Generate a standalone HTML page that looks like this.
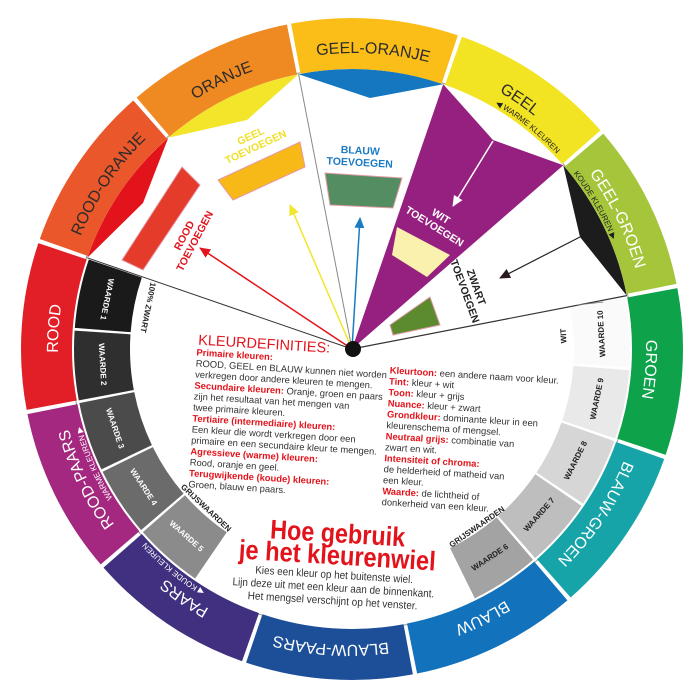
<!DOCTYPE html>
<html><head><meta charset="utf-8"><style>
html,body{margin:0;padding:0;background:#fff;width:700px;height:700px;overflow:hidden;}
svg{display:block;font-family:"Liberation Sans",sans-serif;overflow:hidden;}
.rl{font-size:16px;}
.sm{font-size:8px;}
.wd{font-size:8px;font-weight:bold;}
.tv{font-size:10.5px;font-weight:bold;}
.d{font-size:9.4px;fill:#333;}
.r{fill:#e3131b;font-weight:bold;}
</style></head><body>
<svg width="700" height="700" viewBox="0 0 700 700" xmlns="http://www.w3.org/2000/svg">
<defs>
<path id="ringpath" d="M255.3,629.8 A297,297 0 0 1 448.7,68.2 A297,297 0 0 1 255.3,629.8"/>
<path id="smpath" d="M259.5,617.5 A284,284 0 0 1 444.5,80.5 A284,284 0 0 1 259.5,617.5"/>
<marker id="arR" markerWidth="12" markerHeight="10" refX="10" refY="5" orient="auto" markerUnits="userSpaceOnUse"><path d="M0,0 L11,5 L0,10 Z" fill="#e3131b"/></marker>
<marker id="arY" markerWidth="12" markerHeight="10" refX="10" refY="5" orient="auto" markerUnits="userSpaceOnUse"><path d="M0,0 L11,5 L0,10 Z" fill="#f2e52a"/></marker>
<marker id="arB" markerWidth="12" markerHeight="10" refX="10" refY="5" orient="auto" markerUnits="userSpaceOnUse"><path d="M0,0 L11,5 L0,10 Z" fill="#1a7bc4"/></marker>
<marker id="arW" markerWidth="12" markerHeight="10" refX="10" refY="5" orient="auto" markerUnits="userSpaceOnUse"><path d="M0,0 L11,5 L0,10 Z" fill="#fff"/></marker>
<marker id="arK" markerWidth="12" markerHeight="10" refX="10" refY="5" orient="auto" markerUnits="userSpaceOnUse"><path d="M0,0 L11,5 L0,10 Z" fill="#2a1a20"/></marker>
</defs>

<circle cx="352" cy="349" r="281" fill="#fff" stroke="#999" stroke-width="1"/>

<path d="M87.3,257.8 A280,280 0 0 1 168.3,137.7 L143,203 Z" fill="#e3131b"/>
<path d="M168.3,137.7 A280,280 0 0 1 298.6,74.2 L247,120 Z" fill="#f2e52a"/>
<path d="M298.6,74.2 A280,280 0 0 1 443.2,84.3 L370,98 Z" fill="#1477c0"/>
<path d="M352,349 L443.2,84.3 L493,140 L563.3,165.3 Z" fill="#95207f"/>
<path d="M563.3,165.3 A280,280 0 0 1 626.8,295.6 L580,237 Z" fill="#1c1c1c"/>

<line x1="352" y1="349" x2="87.3" y2="257.8" stroke="#333" stroke-width="1"/>
<line x1="352" y1="349" x2="298.6" y2="74.2" stroke="#888" stroke-width="1"/>
<line x1="352" y1="349" x2="626.8" y2="295.6" stroke="#333" stroke-width="1.2"/>

<g fill="none" stroke-width="51" stroke-dasharray="156 3000">
<circle cx="352" cy="349" r="305.5" stroke="#fbbd18" transform="rotate(-100.6 352 349)"/>
<circle cx="352" cy="349" r="305.5" stroke="#f3e423" transform="rotate(-70.6 352 349)"/>
<circle cx="352" cy="349" r="305.5" stroke="#a5c63b" transform="rotate(-40.6 352 349)"/>
<circle cx="352" cy="349" r="305.5" stroke="#0ea24b" transform="rotate(-10.6 352 349)"/>
<circle cx="352" cy="349" r="305.5" stroke="#17a4a8" transform="rotate(19.4 352 349)"/>
<circle cx="352" cy="349" r="305.5" stroke="#1272bb" transform="rotate(49.4 352 349)"/>
<circle cx="352" cy="349" r="305.5" stroke="#1d4f99" transform="rotate(79.4 352 349)"/>
<circle cx="352" cy="349" r="305.5" stroke="#40307f" transform="rotate(109.4 352 349)"/>
<circle cx="352" cy="349" r="305.5" stroke="#a4287f" transform="rotate(139.4 352 349)"/>
<circle cx="352" cy="349" r="305.5" stroke="#e21e26" transform="rotate(169.4 352 349)"/>
<circle cx="352" cy="349" r="305.5" stroke="#e9572a" transform="rotate(199.4 352 349)"/>
<circle cx="352" cy="349" r="305.5" stroke="#ef8a23" transform="rotate(229.4 352 349)"/>
</g>

<g class="rl" text-anchor="middle">
<text fill="#2b2b2b"><textPath href="#ringpath" startOffset="45.83%">GEEL-ORANJE</textPath></text>
<text fill="#2b2b2b"><textPath href="#ringpath" startOffset="54.17%">GEEL</textPath></text>
<text fill="#fff"><textPath href="#ringpath" startOffset="62.5%">GEEL-GROEN</textPath></text>
<text fill="#fff"><textPath href="#ringpath" startOffset="70.83%">GROEN</textPath></text>
<text fill="#fff"><textPath href="#ringpath" startOffset="79.17%">BLAUW-GROEN</textPath></text>
<text fill="#fff"><textPath href="#ringpath" startOffset="87.5%">BLAUW</textPath></text>
<text fill="#fff"><textPath href="#ringpath" startOffset="95.83%">BLAUW-PAARS</textPath></text>
<text fill="#fff"><textPath href="#ringpath" startOffset="4.17%">PAARS</textPath></text>
<text fill="#fff"><textPath href="#ringpath" startOffset="12.5%">ROOD-PAARS</textPath></text>
<text fill="#fff"><textPath href="#ringpath" startOffset="20.83%">ROOD</textPath></text>
<text fill="#2b2b2b"><textPath href="#ringpath" startOffset="29.17%">ROOD-ORANJE</textPath></text>
<text fill="#2b2b2b"><textPath href="#ringpath" startOffset="37.5%">ORANJE</textPath></text>
</g>
<g class="sm" text-anchor="middle">
<text fill="#222"><textPath href="#smpath" startOffset="55.4%">◀ WARME KLEUREN</textPath></text>
<text fill="#222"><textPath href="#smpath" startOffset="61.25%">KOUDE KLEUREN ▶</textPath></text>
<text fill="#fff"><textPath href="#smpath" startOffset="13.1%">WARME KLEUREN ▶</textPath></text>
<text fill="#fff"><textPath href="#smpath" startOffset="5.6%">◀ KOUDE KLEUREN</textPath></text>
</g>

<g fill="none" stroke-width="56" stroke-dasharray="63 3000">
<circle cx="352" cy="349" r="250" stroke="#1a1a1a" transform="rotate(184.35 352 349)"/>
<circle cx="352" cy="349" r="250" stroke="#2f2f2f" transform="rotate(169.35 352 349)"/>
<circle cx="352" cy="349" r="250" stroke="#4b4b4b" transform="rotate(154.35 352 349)"/>
<circle cx="352" cy="349" r="250" stroke="#6b6b6b" transform="rotate(139.35 352 349)"/>
<circle cx="352" cy="349" r="250" stroke="#8b8b8b" transform="rotate(124.35 352 349)"/>
<circle cx="352" cy="349" r="250" stroke="#a3a3a3" transform="rotate(49.35 352 349)"/>
<circle cx="352" cy="349" r="250" stroke="#bebebe" transform="rotate(34.35 352 349)"/>
<circle cx="352" cy="349" r="250" stroke="#d6d6d6" transform="rotate(19.35 352 349)"/>
<circle cx="352" cy="349" r="250" stroke="#e9e9e9" transform="rotate(4.35 352 349)"/>
<circle cx="352" cy="349" r="250" stroke="#fafafa" transform="rotate(-10.65 352 349)"/>
</g>
<line x1="577.4" y1="305" x2="603.5" y2="302" stroke="#777" stroke-width="0.8"/>
<g class="wd" text-anchor="middle" dominant-baseline="central">
<text fill="#fff" transform="translate(107,299.2) rotate(101.5)">WAARDE 1</text>
<text fill="#fff" transform="translate(102.5,364.3) rotate(86.5)">WAARDE 2</text>
<text fill="#fff" transform="translate(114.9,428.3) rotate(71.5)">WAARDE 3</text>
<text fill="#fff" transform="translate(143.5,487) rotate(56.5)">WAARDE 4</text>
<text fill="#fff" transform="translate(186.4,536.2) rotate(41.5)">WAARDE 5</text>
<text fill="#222" transform="translate(601.5,333.7) rotate(-93.5)">WAARDE 10</text>
<text fill="#222" transform="translate(597,398.8) rotate(-78.5)">WAARDE 9</text>
<text fill="#222" transform="translate(575.7,460.5) rotate(-63.5)">WAARDE 8</text>
<text fill="#222" transform="translate(539.2,514.7) rotate(-48.5)">WAARDE 7</text>
<text fill="#222" transform="translate(490,557.5) rotate(-33.5)">WAARDE 6</text>
<text fill="#222" transform="translate(148,307.5) rotate(101.5)">100% ZWART</text>
<text fill="#222" transform="translate(563.6,336) rotate(-93.5)">WIT</text>
<text fill="#222" transform="translate(206,508) rotate(43)">GRIJSWAARDEN</text>
<text fill="#222" transform="translate(477,527) rotate(-35)">GRIJSWAARDEN</text>
</g>

<polygon points="122,260 143,270 200,185 182,167" fill="#e43b2b" stroke="#e59aa8" stroke-width="1"/>
<polygon points="218,180 233,200 305,167 300,142" fill="#f6b917" stroke="#e59aa8" stroke-width="1"/>
<polygon points="325,173 402,178 393,208 330,205" fill="#558d62" stroke="#e59aa8" stroke-width="1"/>
<polygon points="397,227 450,255 427,277 392,255" fill="#fbf1ae"/>
<polygon points="390,325 430,297 440,325 393,335" fill="#5c8a2e" stroke="#e59aa8" stroke-width="1"/>

<line x1="352" y1="349" x2="200" y2="248" stroke="#e3131b" stroke-width="1.5" marker-end="url(#arR)"/>
<line x1="352" y1="349" x2="290" y2="205" stroke="#f2e52a" stroke-width="1.5" marker-end="url(#arY)"/>
<line x1="352" y1="349" x2="360" y2="218" stroke="#1a7bc4" stroke-width="1.5" marker-end="url(#arB)"/>
<line x1="493" y1="141" x2="453" y2="206" stroke="#fff" stroke-width="1.5" marker-end="url(#arW)"/>
<line x1="580" y1="237" x2="500" y2="278" stroke="#222" stroke-width="1.2" marker-end="url(#arK)"/>

<g class="tv" text-anchor="middle">
<g transform="translate(189,238) rotate(-62)"><text y="-2" fill="#e3131b">ROOD</text><text y="10" fill="#e3131b">TOEVOEGEN</text></g>
<g transform="translate(253,141) rotate(-25)"><text y="-2" fill="#efe02a">GEEL</text><text y="10" fill="#efe02a">TOEVOEGEN</text></g>
<g transform="translate(360,156) rotate(3)"><text y="-2" fill="#1a7bc4">BLAUW</text><text y="10" fill="#1a7bc4">TOEVOEGEN</text></g>
<g transform="translate(438,221) rotate(32)"><text y="-2" fill="#fff">WIT</text><text y="10" fill="#fff">TOEVOEGEN</text></g>
<g transform="translate(471,289) rotate(70)"><text y="-2" fill="#222">ZWART</text><text y="10" fill="#222">TOEVOEGEN</text></g>
</g>

<circle cx="353" cy="349" r="8" fill="#111"/>

<g transform="rotate(3.5 352 349)">
<text x="198" y="354" font-size="14.5" fill="#e3131b">KLEURDEFINITIES:</text>
<g class="d">
<text x="197" y="365"><tspan class="r">Primaire kleuren:</tspan></text>
<text x="197" y="376">ROOD, GEEL en BLAUW kunnen niet worden</text>
<text x="197" y="387">verkregen door andere kleuren te mengen.</text>
<text x="197" y="398"><tspan class="r">Secundaire kleuren:</tspan> Oranje, groen en paars</text>
<text x="197" y="409">zijn het resultaat van het mengen van</text>
<text x="197" y="420">twee primaire kleuren.</text>
<text x="197" y="431"><tspan class="r">Tertiaire (intermediaire) kleuren:</tspan></text>
<text x="197" y="442">Een kleur die wordt verkregen door een</text>
<text x="197" y="453">primaire en een secundaire kleur te mengen.</text>
<text x="197" y="464"><tspan class="r">Agressieve (warme) kleuren:</tspan></text>
<text x="197" y="475">Rood, oranje en geel.</text>
<text x="197" y="486"><tspan class="r">Terugwijkende (koude) kleuren:</tspan></text>
<text x="197" y="497">Groen, blauw en paars.</text>

<text x="391" y="371"><tspan class="r">Kleurtoon:</tspan> een andere naam voor kleur.</text>
<text x="391" y="382"><tspan class="r">Tint:</tspan> kleur + wit</text>
<text x="391" y="393"><tspan class="r">Toon:</tspan> kleur + grijs</text>
<text x="391" y="404"><tspan class="r">Nuance:</tspan> kleur + zwart</text>
<text x="391" y="415"><tspan class="r">Grondkleur:</tspan> dominante kleur in een</text>
<text x="391" y="426">kleurenschema of mengsel.</text>
<text x="391" y="437"><tspan class="r">Neutraal grijs:</tspan> combinatie van</text>
<text x="391" y="448">zwart en wit.</text>
<text x="391" y="459"><tspan class="r">Intensiteit of chroma:</tspan></text>
<text x="391" y="470">de helderheid of matheid van</text>
<text x="391" y="481">een kleur.</text>
<text x="391" y="492"><tspan class="r">Waarde:</tspan> de lichtheid of</text>
<text x="391" y="503">donkerheid van een kleur.</text>
</g>
<g text-anchor="middle" font-weight="bold" fill="#e3131b" font-size="27">
<text x="349" y="543" textLength="135" lengthAdjust="spacingAndGlyphs">Hoe gebruik</text>
<text x="350" y="565" textLength="197" lengthAdjust="spacingAndGlyphs">je het kleurenwiel</text>
</g>
<g text-anchor="middle" font-size="11" fill="#333">
<text x="348" y="579" textLength="158" lengthAdjust="spacingAndGlyphs">Kies een kleur op het buitenste wiel.</text>
<text x="348" y="592" textLength="202" lengthAdjust="spacingAndGlyphs">Lijn deze uit met een kleur aan de binnenkant.</text>
<text x="348" y="605" textLength="170" lengthAdjust="spacingAndGlyphs">Het mengsel verschijnt op het venster.</text>
</g>
</g>
</svg>
</body></html>
